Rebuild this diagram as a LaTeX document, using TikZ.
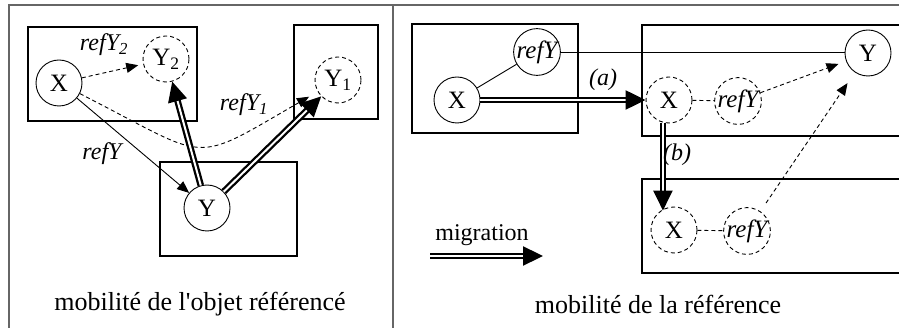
\documentclass[tikz,border=0pt]{standalone}
\usepackage{fontspec}
\setmainfont{Liberation Serif}
\usetikzlibrary{arrows.meta,calc}
\begin{document}
\begin{tikzpicture}[x=1pt,y=1pt,
  obj/.style={circle,draw,line width=0.9pt,minimum size=46pt,inner sep=0pt,font=\fontsize{25}{27}\selectfont},
  ghost/.style={obj,dashed,dash pattern=on 4pt off 3pt},
  sitebox/.style={draw,line width=1.7pt},
  outerframe/.style={draw=black!60,line width=1.5pt},
  lab/.style={font=\fontsize{24}{26}\selectfont\itshape,inner sep=0pt},
  captxt/.style={font=\fontsize{26}{28}\selectfont,inner sep=0pt},
  refarr/.style={line width=0.9pt,-{Triangle[length=12pt,width=10pt]}},
  dref/.style={refarr,dash pattern=on 4pt off 3pt},
  mig/.style={line width=2.3pt,double=white,double distance=2pt,-{Triangle[length=20pt,width=19pt]}}
]
\clip (0,0) rectangle (899,-328);
\fill[white] (0,0) rectangle (899,-328);
% outer frame
\draw[outerframe] (9,-328) -- (9,-5) -- (899,-5);
\draw[outerframe] (393,-5) -- (393,-328);

% ---------- left panel ----------
\draw[sitebox] (28,-27) rectangle (197,-121);
\draw[sitebox] (294,-25) rectangle (378,-119);
\draw[sitebox] (160,-162) rectangle (297,-256);
\node[obj] (XL) at (59,-83) {X};
\node[ghost] (Y2) at (166,-59) {Y\textsubscript{2}};
\node[ghost] (Y1) at (338,-80) {Y\textsubscript{1}};
\node[obj] (YL) at (207,-208) {Y};
\draw[dref,shorten >=10pt] (XL) to[out=-27,in=210,looseness=1.6] (Y1);
\draw[dref,shorten >=5pt] (XL) -- (Y2);
\draw[refarr] (XL) -- (YL);
\draw[mig] (YL) -- (Y2);
\draw[mig] (YL) -- (Y1);
\node[lab] (lY2) at (104,-45) {refY\textsubscript{2}};
\node[lab] (lY1) at (244,-105) {refY\textsubscript{1}};
\node[lab] (lY) at (102,-154) {refY};
\node[captxt] (c1) at (200,-304) {mobilité de l\textquotesingle objet référencé};

% ---------- right panel ----------
\draw[sitebox] (412,-24) rectangle (578,-133);
\draw[sitebox] (905,-25) -- (642,-25) -- (642,-136) -- (905,-136);
\draw[sitebox] (905,-179) -- (642,-179) -- (642,-273) -- (905,-273);
\node[obj] (Xa) at (457,-100) {X};
\node[obj] (rYa) at (537,-52) {\itshape refY};
\node[obj] (Yr) at (868,-53) {Y};
\node[ghost] (Xb) at (669,-100) {X};
\node[ghost] (rYb) at (738,-101) {\itshape refY};
\node[ghost] (Xc) at (674,-230) {X};
\node[ghost] (rYc) at (747,-231) {\itshape refY};
\draw[line width=0.9pt] (Xa) -- (rYa);
\draw[line width=0.9pt] (rYa.east) -- (rYa.east -| Yr.west);
\draw[line width=0.9pt,dash pattern=on 4pt off 3pt] (Xb) -- (rYb);
\draw[line width=0.9pt,dash pattern=on 4pt off 3pt] (Xc) -- (rYc);
\draw[dref,shorten >=8pt] (rYb) -- (Yr);
\draw[dref,shorten <=10pt,shorten >=13pt] (rYc) -- (Yr);
\draw[mig] (Xa.east) -- (Xb.west);
\draw[mig,shorten >=-4pt] (Xb.-105) -- (Xb.-105 |- Xc.north);
\node[lab] (la) at (603,-80) {(a)};
\node[lab] (lb) at (677,-155) {(b)};
\node[font=\fontsize{24}{26}\selectfont,inner sep=0pt] (lm) at (482,-235) {migration};
\coordinate (m1) at (430,-256);
\coordinate (m2) at (543,-256);
\draw[mig] (m1) -- (m2);
\node[captxt] (c2) at (658,-304) {mobilité de la référence};
\end{tikzpicture}
\end{document}
